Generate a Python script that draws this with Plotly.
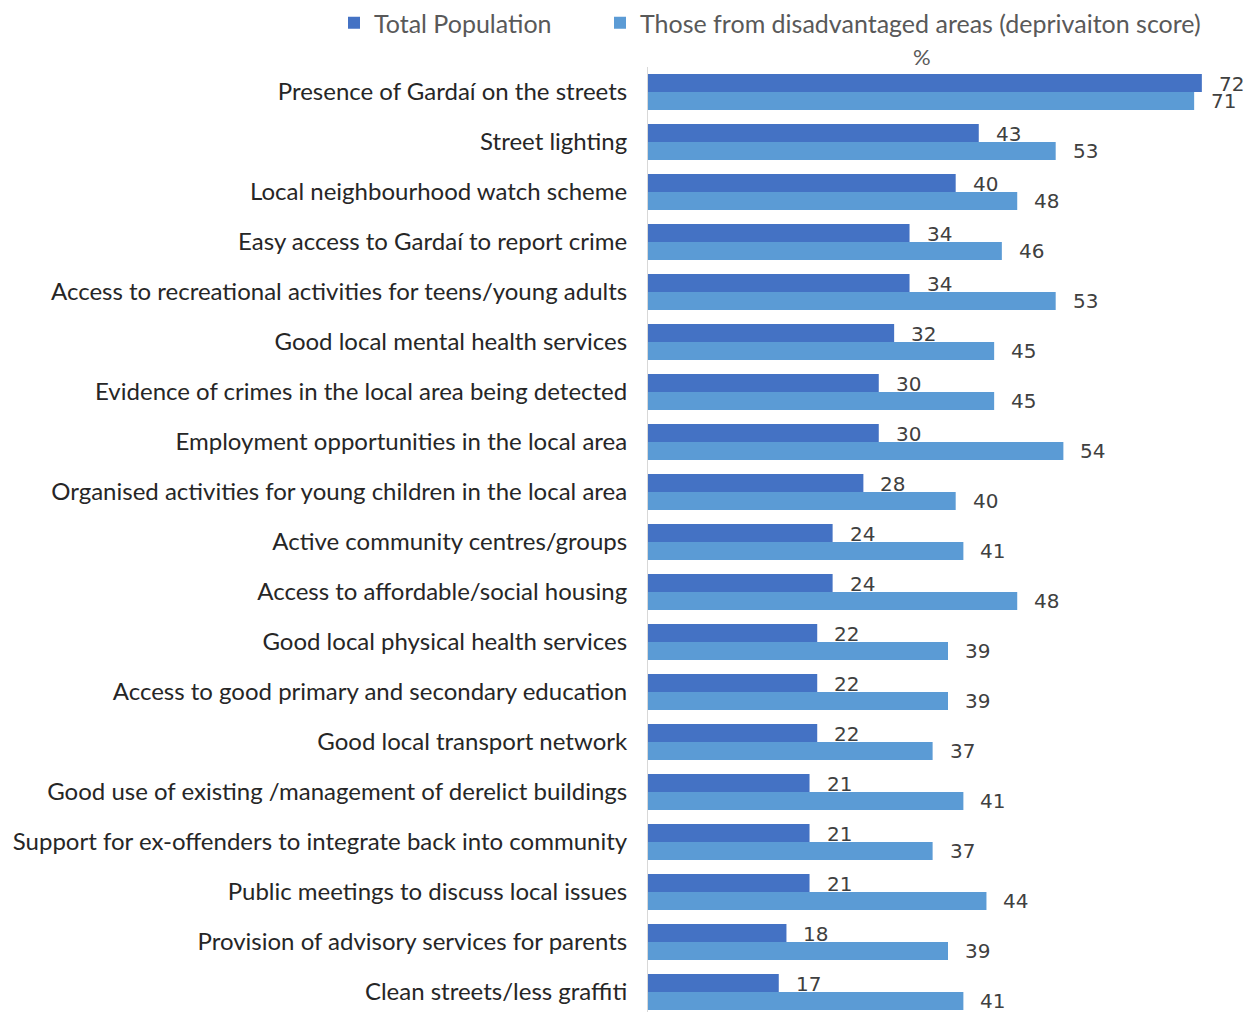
import plotly.graph_objects as go

categories = [
    "Presence of Gardaí on the streets",
    "Street lighting",
    "Local neighbourhood watch scheme",
    "Easy access to Gardaí to report crime",
    "Access to recreational activities for teens/young adults",
    "Good local mental health services",
    "Evidence of crimes in the local area being detected",
    "Employment opportunities in the local area",
    "Organised activities for young children in the local area",
    "Active community centres/groups",
    "Access to affordable/social housing",
    "Good local physical health services",
    "Access to good primary and secondary education",
    "Good local transport network",
    "Good use of existing /management of derelict buildings",
    "Support for ex-offenders to integrate back into community",
    "Public meetings to discuss local issues",
    "Provision of advisory services for parents",
    "Clean streets/less graffiti",
]
total_population = [72, 43, 40, 34, 34, 32, 30, 30, 28, 24, 24, 22, 22, 22, 21, 21, 21, 18, 17]
disadvantaged = [71, 53, 48, 46, 53, 45, 45, 54, 40, 41, 48, 39, 39, 37, 41, 37, 44, 39, 41]
series_names = ["Total Population", "Those from disadvantaged areas (deprivaiton score)"]
series_colors = ["#4472C4", "#5B9BD5"]
legend_ids = ["legend", "legend2"]

LABEL_FONT = dict(family="DejaVu Sans, Arial, sans-serif", size=20, color="#404040")
CAT_FONT = dict(family="Lato, Calibri, sans-serif", size=24, color="#262626")
LEG_FONT = dict(family="Lato, Calibri, sans-serif", size=25, color="#595959")

fig = go.Figure()
for name, vals, col, leg in zip(series_names, [total_population, disadvantaged], series_colors, legend_ids):
    fig.add_trace(go.Bar(
        y=categories, x=vals, name=name, orientation="h",
        marker=dict(color=col, line=dict(width=0)),
        hoverinfo="x+y", legend=leg,
    ))

# value labels sit just past the end of each bar
annotations = []
for vals, yshift in [(total_population, 8), (disadvantaged, -9)]:
    for cat, v in zip(categories, vals):
        annotations.append(dict(
            x=v, y=cat, xref="x", yref="y", text=str(v), showarrow=False,
            xanchor="left", yanchor="middle", xshift=15, yshift=yshift,
            font=LABEL_FONT,
        ))

# unit caption above the bars
plot_w = 1258 - 648
plot_h = 1012 - 67
annotations.append(dict(
    x=(922 - 648) / plot_w, y=1 + (67 - 57) / plot_h, xref="paper", yref="paper",
    text="%", showarrow=False, xanchor="center", yanchor="middle",
    font=dict(family="Lato, Calibri, sans-serif", size=22, color="#595959"),
))

legend_common = dict(
    orientation="h", xref="container", xanchor="left",
    yref="container", y=1.0, yanchor="top",
    font=LEG_FONT, itemwidth=30, bgcolor="rgba(0,0,0,0)",
)

fig.update_layout(
    width=1258, height=1012,
    margin=dict(l=648, r=0, t=67, b=0, autoexpand=False),
    paper_bgcolor="white", plot_bgcolor="white",
    barmode="group", bargap=0.28, bargroupgap=0,
    showlegend=True,
    legend=dict(legend_common, x=334 / 1258),
    legend2=dict(legend_common, x=600 / 1258),
    xaxis=dict(range=[0, 79.3], showgrid=False, zeroline=False, showticklabels=False,
               showline=False, fixedrange=True),
    yaxis=dict(categoryorder="array", categoryarray=categories, range=[18.4, -0.5],
               showgrid=False, showline=True, linecolor="#D9D9D9", linewidth=1,
               ticks="", ticklabelstandoff=15, tickfont=CAT_FONT),
    annotations=annotations,
)

fig.write_html("out.html")
